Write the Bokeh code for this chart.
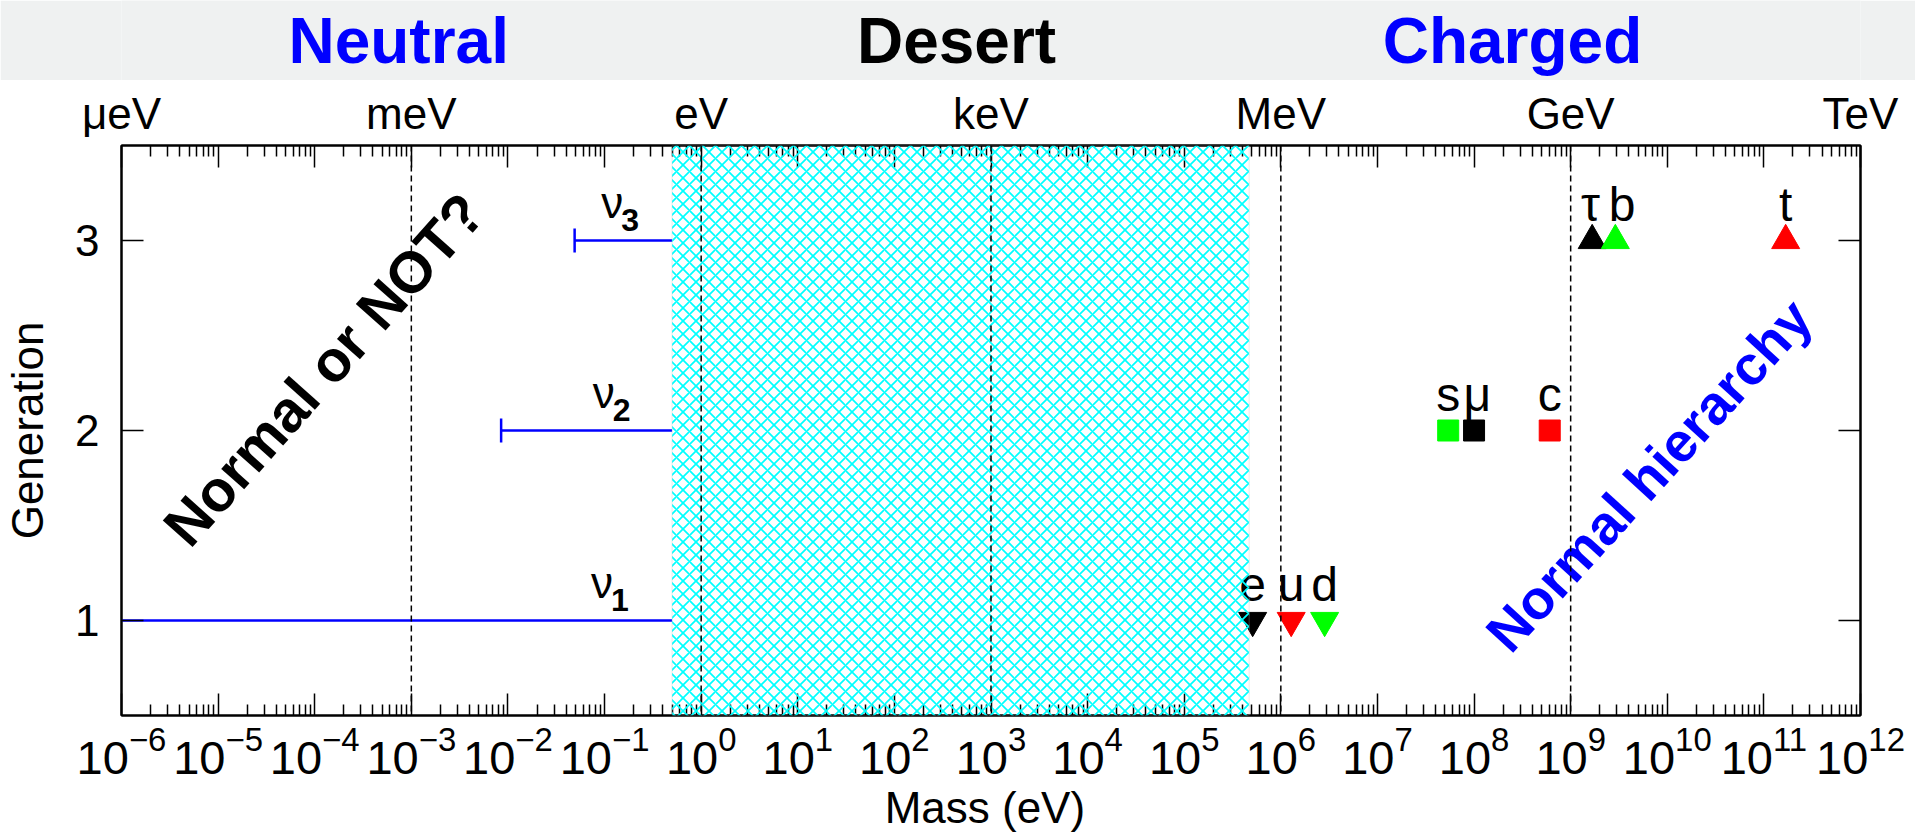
import math
from bokeh.plotting import figure
from bokeh.models import LogAxis, LinearAxis, FixedTicker, Span, BoxAnnotation, Range1d
from bokeh.layouts import column
from bokeh.core.properties import value
from bokeh.embed import file_html
from bokeh.resources import INLINE

FONT = "Liberation Sans"

# ---------------- data ----------------
decades = [10.0 ** k for k in range(-6, 13)]
minor_ticks = [m * 10.0 ** k for k in range(-6, 12) for m in range(2, 10)]
unit_decades = [1e-6, 1e-3, 1e0, 1e3, 1e6, 1e9, 1e12]
unit_labels = ["\u03bceV", "meV", "eV", "keV", "MeV", "GeV", "TeV"]
scale_marks = [1e-3, 1e0, 1e3, 1e6, 1e9]
gen_ticks = [1, 2, 3]

region_names = ["Neutral", "Desert", "Charged"]
region_x = [7.4e-4, 4.4e2, 2.5e8]
region_colors = ["#0000ff", "#000000", "#0000ff"]

# neutrinos
nu_gen = [1, 2, 3]
nu_low = [1e-6, 0.0085, 0.049]
nu_high = [0.5, 0.5, 0.5]
nu_sub = ["1", "2", "3"]
nu_label_x = [0.094, 0.098, 0.12]
cap_x = [0.0085, 0.049]
cap_gen = [2, 3]

# the "desert" band (neutrino upper bound .. electron mass)
desert_lo = 0.5
desert_hi = 4.7e5

# charged fermions
names = ["e", "u", "d", "s", "\u03bc", "c", "\u03c4", "b", "t"]
mass = [5.11e5, 1.28e6, 2.84e6, 5.4e7, 1.0e8, 6.07e8, 1.67e9, 2.9e9, 1.68e11]
label_x = [5.11e5, 1.28e6, 2.84e6, 5.4e7, 1.08e8, 6.07e8, 1.6e9, 3.4e9, 1.68e11]
gen = [1, 1, 1, 2, 2, 2, 3, 3, 3]
kind = ["lepton", "up", "down", "down", "lepton", "up", "lepton", "down", "up"]

# ---------------- styles ----------------
kind_color = {"lepton": "#000000", "up": "#ff0000", "down": "#00ff00"}
gen_marker = {1: ("inverted_triangle", 28), 2: ("square", 21), 3: ("triangle", 28)}
BAND = "#eff1f1"

x_range = Range1d(1e-6, 1e12)

# ---------------- top band with region titles ----------------
band = figure(width=1915, height=80, x_axis_type="log", x_range=x_range,
              y_range=Range1d(0, 1), x_axis_location=None, y_axis_location=None,
              title=None,
              min_border_left=118, min_border_right=55, min_border_top=0,
              min_border_bottom=0, background_fill_color=BAND,
              border_fill_color=BAND, outline_line_color=None,
              toolbar_location=None, output_backend="svg")
band.grid.visible = False
band.text(x=region_x, y=[0.5] * len(region_x), text=region_names,
          text_color=region_colors, text_font=value(FONT), text_font_style="bold",
          text_font_size="64px", text_align="center", text_baseline="middle")

# ---------------- main plot ----------------
p = figure(width=1915, height=754, x_axis_type="log", x_range=x_range,
           y_range=Range1d(0.5, 3.5), output_backend="svg", toolbar_location=None,
           title=None,
           min_border_left=118, min_border_right=55, min_border_top=65,
           min_border_bottom=117, background_fill_color="white",
           border_fill_color="white")
p.grid.visible = False
p.outline_line_color = "black"
p.outline_line_width = 2


def style_axis(ax, major_len, minor_len):
    ax.axis_line_width = 2
    ax.axis_line_color = "black"
    ax.major_tick_in = major_len
    ax.major_tick_out = 0
    ax.minor_tick_in = minor_len
    ax.minor_tick_out = 0
    ax.major_tick_line_width = 1.5
    ax.minor_tick_line_width = 1.5
    ax.major_tick_line_color = "black"
    ax.minor_tick_line_color = "black"
    ax.major_label_text_font = FONT
    ax.major_label_text_font_size = "44px"
    ax.major_label_text_color = "black"
    ax.axis_label_text_font = FONT
    ax.axis_label_text_font_size = "44px"
    ax.axis_label_text_font_style = "normal"
    ax.axis_label_text_color = "black"


xb = p.xaxis[0]
xb.ticker = FixedTicker(ticks=decades, minor_ticks=minor_ticks)
style_axis(xb, 22, 11)
xb.major_label_text_font_size = "47px"
xb.major_label_standoff = 10
xb.axis_label = "Mass  (eV)"
xb.axis_label_standoff = 6

yl = p.yaxis[0]
yl.ticker = FixedTicker(ticks=gen_ticks)
style_axis(yl, 22, 0)
yl.major_label_standoff = 22
yl.axis_label = "Generation"
yl.axis_label_standoff = 20

top_overrides = {d: "" for d in decades}
for d, lab in zip(unit_decades, unit_labels):
    top_overrides[d] = lab
xt = LogAxis(ticker=FixedTicker(ticks=decades, minor_ticks=minor_ticks),
             major_label_overrides=top_overrides)
style_axis(xt, 22, 11)
xt.major_label_standoff = 8
p.add_layout(xt, "above")

yr = LinearAxis(ticker=FixedTicker(ticks=gen_ticks),
                major_label_overrides={g: "" for g in gen_ticks})
style_axis(yr, 22, 0)
yr.major_label_standoff = 0
p.add_layout(yr, "right")

# desert hatch
p.add_layout(BoxAnnotation(left=desert_lo, right=desert_hi, fill_color=None,
                           fill_alpha=0, hatch_pattern="x", hatch_color="#00ffff",
                           hatch_scale=13, hatch_weight=1.7,
                           line_color="#bbbbbb", line_width=1))

# dashed decade marks
for m in scale_marks:
    p.add_layout(Span(location=m, dimension="height", line_color="black",
                      line_width=1.5, line_dash="6 4"))

# neutrino lines
p.segment(x0=nu_low, x1=nu_high, y0=nu_gen, y1=nu_gen, line_color="#0000ff",
          line_width=2.5)
p.scatter(x=cap_x, y=cap_gen, marker="dash", angle=math.pi / 2, size=24,
          line_color="#0000ff", line_width=2.5)
p.text(x=nu_label_x, y=[g + 0.2 for g in nu_gen], text=["\u03bd"] * 3,
       text_font=value(FONT), text_font_size="44px", text_color="black",
       text_align="center", text_baseline="alphabetic")
p.text(x=nu_label_x, y=[g + 0.11 for g in nu_gen], text=nu_sub,
       text_font=value(FONT), text_font_size="32px", text_font_style="bold",
       text_color="black", text_align="left", text_baseline="alphabetic",
       x_offset=9)

# charged fermions
for g in gen_ticks:
    idx = [i for i, gg in enumerate(gen) if gg == g]
    mk, sz = gen_marker[g]
    p.scatter(x=[mass[i] for i in idx], y=[gen[i] for i in idx], marker=mk,
              size=sz, fill_color=[kind_color[kind[i]] for i in idx],
              line_color=[kind_color[kind[i]] for i in idx], line_width=1)
p.text(x=label_x, y=[g + 0.19 for g in gen], text=names, text_font=value(FONT),
       text_font_size="48px", text_color="black", text_align="center",
       text_baseline="alphabetic")

# diagonal annotations
p.text(x=[1.24e-4], y=[2.323], text=["Normal or NOT?"], angle=math.radians(48.3),
       text_font=value(FONT), text_font_style="bold", text_font_size="58px",
       text_color="black", text_align="center", text_baseline="middle")
p.text(x=[6.47e9], y=[1.764], text=["Normal hierarchy"], angle=math.radians(47.7),
       text_font=value(FONT), text_font_style="bold", text_font_size="55px",
       text_color="#0000ff", text_align="center", text_baseline="middle")

layout = column(band, p, spacing=0)
open("out.html", "w").write(file_html(layout, INLINE))
